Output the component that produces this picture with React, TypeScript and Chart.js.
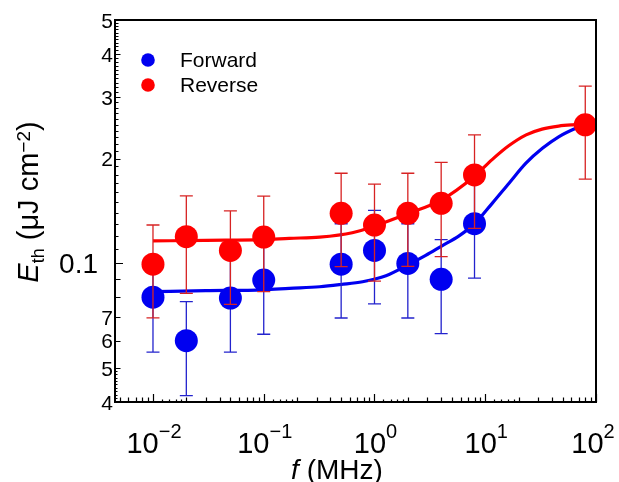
import React, { useEffect, useRef } from "react";
import { Chart, registerables } from "chart.js";

Chart.register(...registerables);

// ---- data ----
const frequencies = [0.01, 0.02, 0.05, 0.1, 0.5, 1, 2, 4, 8, 80];

// the Forward point at 80 MHz is hidden under the Reverse one
const forwardValues = [0.08, 0.06, 0.0795, 0.0896, 0.0995, 0.109, 0.1, 0.09, 0.13, null];
const forwardUpper = [0.104, 0.0777, 0.104, 0.117, 0.13, 0.142, 0.13, 0.117, 0.17, null];
const forwardLower = [0.0556, 0.0417, 0.0556, 0.0626, 0.0697, 0.0765, 0.0697, 0.0629, 0.0907, null];

const reverseValues = [0.0995, 0.1193, 0.109, 0.119, 0.1393, 0.1289, 0.1393, 0.1488, 0.1795, 0.25];
const reverseUpper = [0.1289, 0.1562, 0.1415, 0.156, 0.1815, 0.169, 0.1815, 0.195, 0.2338, 0.323];
const reverseLower = [0.0698, 0.082, 0.0763, 0.083, 0.0979, 0.089, 0.098, 0.1046, 0.126, 0.1745];

const forwardFitF = [0.01, 0.03, 0.1, 0.17, 0.32, 0.5, 0.78, 1.27, 2, 2.9, 4, 5.8, 8, 11.6, 16.4, 23.3, 32.8, 46, 65, 80];
const forwardFitE = [0.083, 0.0835, 0.084, 0.0848, 0.0857, 0.087, 0.0886, 0.0922, 0.099, 0.1055, 0.112, 0.12, 0.13, 0.149, 0.17, 0.194, 0.214, 0.231, 0.244, 0.25];

const reverseFitF = [0.01, 0.03, 0.1, 0.17, 0.32, 0.63, 1, 2, 4, 8, 11.6, 16.4, 23.4, 32.6, 46, 61, 80];
const reverseFitE = [0.116, 0.1165, 0.117, 0.118, 0.119, 0.1225, 0.128, 0.139, 0.152, 0.178, 0.199, 0.218, 0.234, 0.243, 0.248, 0.25, 0.251];

const xTickExponents = [-2, -1, 0, 1, 2];
const yTickValues = [0.04, 0.05, 0.06, 0.07, 0.1, 0.2, 0.3, 0.4, 0.5];
const yTickLabels = ["4", "5", "6", "7", "0.1", "2", "3", "4", "5"];
const legendLabels = ["Forward", "Reverse"];

// ---- styles ----
const FONT = "'Liberation Sans', Arial, Helvetica, sans-serif";
const RED = "#ff0000";
const BLUE = "#0000f0";
const RED_ERR = "rgb(215,35,35)";
const BLUE_ERR = "rgb(35,35,205)";

function drawErrorBars(chart: any, lower: (number | null)[], upper: (number | null)[], color: string) {
  const { ctx, scales } = chart;
  const xs = scales.x;
  const ys = scales.y;
  ctx.save();
  ctx.strokeStyle = color;
  ctx.lineWidth = 1.3;
  frequencies.forEach((f, i) => {
    if (upper[i] == null || lower[i] == null) return;
    const px = xs.getPixelForValue(f);
    const yTop = ys.getPixelForValue(upper[i]);
    const yBot = ys.getPixelForValue(lower[i]);
    ctx.beginPath();
    ctx.moveTo(px, yTop);
    ctx.lineTo(px, yBot);
    ctx.moveTo(px - 6.5, yTop);
    ctx.lineTo(px + 6.5, yTop);
    ctx.moveTo(px - 6.5, yBot);
    ctx.lineTo(px + 6.5, yBot);
    ctx.stroke();
  });
  ctx.restore();
}

function drawPieces(ctx: any, pieces: { t: string; font: string; dy: number }[], cx: number, y: number) {
  let total = 0;
  const widths = pieces.map((p) => {
    ctx.font = p.font;
    const w = ctx.measureText(p.t).width;
    total += w;
    return w;
  });
  let x = cx - total / 2;
  ctx.textAlign = "left";
  ctx.textBaseline = "alphabetic";
  pieces.forEach((p, i) => {
    ctx.font = p.font;
    ctx.fillText(p.t, x, y + p.dy);
    x += widths[i];
  });
}

const customPlugin = {
  id: "customDecor",
  beforeDatasetDraw(chart: any, args: any) {
    if (args.index === 1) drawErrorBars(chart, forwardLower, forwardUpper, BLUE_ERR);
    if (args.index === 0) drawErrorBars(chart, reverseLower, reverseUpper, RED_ERR);
  },
  afterDraw(chart: any) {
    const { ctx, chartArea, scales } = chart;
    const xs = scales.x;
    const ys = scales.y;
    const { left, right, top, bottom } = chartArea;
    ctx.save();
    ctx.fillStyle = "#000";
    ctx.strokeStyle = "#000";

    // x ticks (inside, pointing up)
    ctx.lineWidth = 1.2;
    ctx.beginPath();
    for (let e = -3; e <= 2; e++) {
      const ms = [1, 1.2, 1.4, 1.6, 1.8, 2, 3, 4, 5, 6, 7, 8, 9];
      ms.forEach((m) => {
        const v = m * Math.pow(10, e);
        if (v < xs.min || v > xs.max) return;
        const px = Math.round(xs.getPixelForValue(v)) + 0.5;
        const len = m === 1 ? 8 : Number.isInteger(m) ? 4.5 : 2.5;
        ctx.moveTo(px, bottom);
        ctx.lineTo(px, bottom - len);
      });
    }
    // y ticks (inside, pointing right)
    const yMinor: number[] = [];
    for (let k = 41; k <= 49; k++) yMinor.push(k / 1000);
    for (let k = 11; k <= 19; k++) yMinor.push(k / 100);
    for (let k = 21; k <= 49; k++) if (k % 10 !== 0) yMinor.push(k / 100);
    yMinor.forEach((v) => {
      const py = Math.round(ys.getPixelForValue(v)) + 0.5;
      ctx.moveTo(left, py);
      ctx.lineTo(left + (v < 0.05 ? 2.5 : 3.5), py);
    });
    [0.04, 0.05, 0.06, 0.07, 0.08, 0.09, 0.1, 0.2, 0.3, 0.4, 0.5].forEach((v) => {
      const py = Math.round(ys.getPixelForValue(v)) + 0.5;
      ctx.moveTo(left, py);
      ctx.lineTo(left + (v === 0.1 ? 8 : 5.5), py);
    });
    ctx.stroke();

    // frame
    ctx.lineWidth = 2;
    ctx.strokeRect(left, top, right - left, bottom - top);

    // y tick labels
    ctx.textBaseline = "middle";
    ctx.textAlign = "right";
    yTickValues.forEach((v, i) => {
      const py = ys.getPixelForValue(v);
      if (yTickLabels[i] === "0.1") {
        ctx.font = `28px ${FONT}`;
        ctx.fillText(yTickLabels[i], 98, py + 2);
      } else {
        ctx.font = `21px ${FONT}`;
        ctx.fillText(yTickLabels[i], 113, py + 2);
      }
    });

    // x tick labels 10^n
    xTickExponents.forEach((e) => {
      const px = xs.getPixelForValue(Math.pow(10, e));
      const sup = e < 0 ? "\u2212" + Math.abs(e) : String(e);
      drawPieces(
        ctx,
        [
          { t: "10", font: `29px ${FONT}`, dy: 0 },
          { t: sup, font: `20px ${FONT}`, dy: -15 },
        ],
        e === 2 ? px - 3 : px + 1,
        453
      );
    });

    // x title
    drawPieces(
      ctx,
      [
        { t: "f", font: `italic 28px ${FONT}`, dy: 0 },
        { t: " (MHz)", font: `28px ${FONT}`, dy: 0 },
      ],
      337,
      479
    );

    // y title (rotated)
    ctx.save();
    ctx.translate(38, 202);
    ctx.rotate(-Math.PI / 2);
    drawPieces(
      ctx,
      [
        { t: "E", font: `italic 29px ${FONT}`, dy: 0 },
        { t: "th", font: `18px ${FONT}`, dy: 6 },
        { t: " (\u03bcJ cm", font: `29px ${FONT}`, dy: 0 },
        { t: "\u22122", font: `19px ${FONT}`, dy: -8 },
        { t: ")", font: `29px ${FONT}`, dy: 0 },
      ],
      0,
      0
    );
    ctx.restore();

    // legend
    const legendColors = [BLUE, RED];
    const legendY = [60, 85];
    legendLabels.forEach((lab, i) => {
      ctx.fillStyle = legendColors[i];
      ctx.beginPath();
      ctx.arc(148, legendY[i], 6.8, 0, Math.PI * 2);
      ctx.fill();
      ctx.fillStyle = "#000";
      ctx.font = `21px ${FONT}`;
      ctx.textAlign = "left";
      ctx.textBaseline = "middle";
      ctx.fillText(lab, 180, legendY[i] + 1);
    });

    ctx.restore();
  },
};

export default function App() {
  const canvasRef = useRef<HTMLCanvasElement | null>(null);

  useEffect(() => {
    if (!canvasRef.current) return;
    const toPts = (xsArr: number[], ysArr: (number | null)[]) =>
      xsArr.map((x, i) => ({ x, y: ysArr[i] }));

    const chart = new Chart(canvasRef.current, {
      type: "scatter",
      data: {
        datasets: [
          {
            label: "Reverse",
            data: toPts(frequencies, reverseValues),
            backgroundColor: RED,
            borderWidth: 0,
            pointRadius: 11.5,
            pointHoverRadius: 11.5,
            showLine: false,
            order: 0,
            clip: false,
          } as any,
          {
            label: "Forward",
            data: toPts(frequencies, forwardValues),
            backgroundColor: BLUE,
            borderWidth: 0,
            pointRadius: 11.5,
            pointHoverRadius: 11.5,
            showLine: false,
            order: 1,
            clip: false,
          } as any,
          {
            label: "Reverse fit",
            data: toPts(reverseFitF, reverseFitE),
            borderColor: RED,
            borderWidth: 3.2,
            pointRadius: 0,
            showLine: true,
            cubicInterpolationMode: "monotone",
            order: 2,
            clip: false,
          } as any,
          {
            label: "Forward fit",
            data: toPts(forwardFitF, forwardFitE),
            borderColor: BLUE,
            borderWidth: 3.2,
            pointRadius: 0,
            showLine: true,
            cubicInterpolationMode: "monotone",
            order: 3,
            clip: false,
          } as any,
        ],
      },
      options: {
        animation: false,
        responsive: false,
        devicePixelRatio: 1,
        layout: { padding: { left: 0, right: 23, top: 20, bottom: 0 } },
        plugins: {
          legend: { display: false },
          tooltip: { enabled: false },
        },
        events: [],
        scales: {
          x: {
            type: "logarithmic",
            min: 0.00454,
            max: 100,
            ticks: { display: false },
            grid: { display: false },
            border: { display: false },
            afterFit: (scale: any) => {
              scale.height = 80;
            },
          },
          y: {
            type: "logarithmic",
            min: 0.04,
            max: 0.5,
            ticks: { display: false },
            grid: { display: false },
            border: { display: false },
            afterFit: (scale: any) => {
              scale.width = 115;
            },
          },
        },
      },
      plugins: [customPlugin],
    });

    return () => chart.destroy();
  }, []);

  return (
    <div style={{ position: "absolute", left: 0, top: 0, width: 619, height: 482, background: "#fff" }}>
      <canvas ref={canvasRef} width={619} height={482} style={{ width: 619, height: 482, display: "block" }} />
    </div>
  );
}
